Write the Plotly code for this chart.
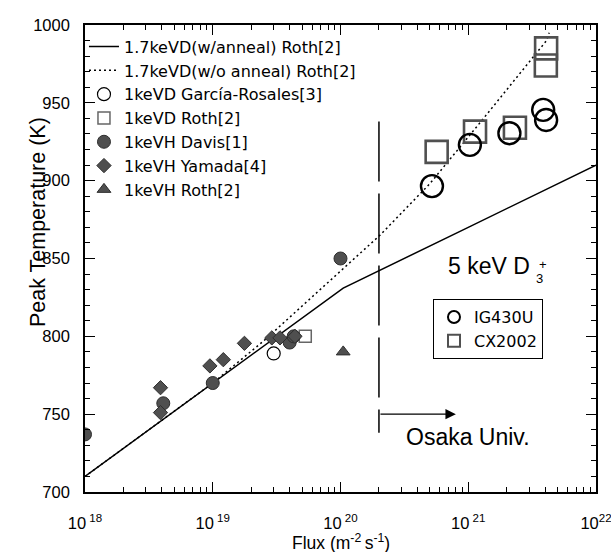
import numpy as np
import plotly.graph_objects as go

# ---------------- data ----------------
# model curves (1.7 keV D, Roth[2])
anneal_flux = [1e18, 1e19, 2.3e19, 1.05e20, 1e21, 1e22]
anneal_T = [710, 770, 792, 831, 870, 910]

noanneal_flux = [1e18, 1e19, 2.5e19, 1e20, 2.04e20, 5.0e20, 1.23e21, 4.1e21, 4.3e21]
noanneal_T = [710, 770, 797, 842, 865, 898, 937, 990, 995]

# literature points
garcia_flux = [3.0e19]
garcia_T = [789]

roth_d_flux = [5.3e19]
roth_d_T = [800]

davis_flux = [1.0e18, 4.1e18, 1.0e19, 4.0e19, 4.3e19, 1.0e20]
davis_T = [737, 757, 770, 796, 800, 850]

yamada_flux = [3.9e18, 3.9e18, 9.5e18, 1.21e19, 1.77e19, 2.9e19, 3.36e19, 4.4e19]
yamada_T = [767, 751, 781, 785, 795.5, 799, 799, 800]

roth_h_flux = [1.05e20]
roth_h_T = [790]

# Osaka Univ. (5 keV D3+)
ig430u_flux = [5.2e20, 1.03e21, 2.1e21, 3.86e21, 4.07e21]
ig430u_T = [896.5, 923, 930.5, 945.5, 939]

cx2002_flux = [5.66e20, 1.13e21, 2.32e21, 4.07e21, 4.05e21]
cx2002_T = [918.5, 931.5, 934, 985, 974]

osaka_boundary_flux = [2.0e20, 2.0e20]
osaka_boundary_T = [938, 738]
arrow_flux = [2.0e20, 8.0e20]
arrow_T = 750

x_tick_vals = [1e18, 1e19, 1e20, 1e21, 1e22]
x_tick_text = ["10<sup> 18</sup>", "10<sup> 19</sup>", "10<sup> 20</sup>",
               "10<sup> 21</sup>", "10<sup>22</sup>"]
x_minor_vals = [k * 10.0 ** n for n in range(18, 22) for k in range(2, 10)]

# ---------------- figure ----------------
FONT = "Liberation Sans, Arial, Helvetica, sans-serif"
LFONT = "DejaVu Sans, Liberation Sans, sans-serif"
FILL = "#4f4f4f"
EDGE = "#2e2e2e"

fig = go.Figure()

fig.add_trace(go.Scatter(
    x=anneal_flux, y=anneal_T, mode="lines",
    line=dict(color="black", width=1.5),
    name="1.7keVD(w/anneal) Roth[2]", legend="legend"))
fig.add_trace(go.Scatter(
    x=noanneal_flux, y=noanneal_T, mode="lines",
    line=dict(color="black", width=1.5, dash="2px,3px"),
    name="1.7keVD(w/o anneal) Roth[2]", legend="legend"))
fig.add_trace(go.Scatter(
    x=garcia_flux, y=garcia_T, mode="markers",
    marker=dict(symbol="circle-open", size=13, color="black", line=dict(width=1.2)),
    name="1keVD García-Rosales[3]", legend="legend"))
fig.add_trace(go.Scatter(
    x=roth_d_flux, y=roth_d_T, mode="markers",
    marker=dict(symbol="square", size=12, color="white",
                line=dict(color="#666666", width=1.5)),
    name="1keVD Roth[2]", legend="legend"))
fig.add_trace(go.Scatter(
    x=davis_flux, y=davis_T, mode="markers",
    marker=dict(symbol="circle", size=13, color=FILL, line=dict(color=EDGE, width=1)),
    name="1keVH Davis[1]", legend="legend"))
fig.add_trace(go.Scatter(
    x=yamada_flux, y=yamada_T, mode="markers",
    marker=dict(symbol="diamond", size=11, color=FILL, line=dict(color=EDGE, width=1)),
    name="1keVH Yamada[4]", legend="legend"))
fig.add_trace(go.Scatter(
    x=roth_h_flux, y=roth_h_T, mode="markers",
    marker=dict(symbol="triangle-up", size=12, color=FILL, line=dict(color=EDGE, width=1)),
    name="1keVH Roth[2]", legend="legend"))

fig.add_trace(go.Scatter(
    x=cx2002_flux, y=cx2002_T, mode="markers",
    marker=dict(symbol="square", size=22, color="rgba(255,255,255,0)",
                line=dict(color="#505050", width=2.6)),
    name="CX2002", legend="legend2", legendrank=2))
fig.add_trace(go.Scatter(
    x=ig430u_flux, y=ig430u_T, mode="markers",
    marker=dict(symbol="circle", size=22, color="rgba(255,255,255,0)",
                line=dict(color="black", width=2.4)),
    name="IG430U", legend="legend2", legendrank=1))

# Osaka boundary (long dashed) and arrow
fig.add_trace(go.Scatter(
    x=osaka_boundary_flux, y=osaka_boundary_T, mode="lines",
    line=dict(color="black", width=1.5, dash="60px,12px"),
    showlegend=False, hoverinfo="skip"))

fig.add_annotation(
    x=np.log10(arrow_flux[1]), y=arrow_T, ax=np.log10(arrow_flux[0]), ay=arrow_T,
    xref="x", yref="y", axref="x", ayref="y", text="",
    showarrow=True, arrowhead=2, arrowsize=1.6, arrowwidth=1.3, arrowcolor="black")

fig.add_annotation(
    x=np.log10(1.0e21), y=735.5, xref="x", yref="y", text="Osaka Univ.",
    xanchor="center", yanchor="middle",
    showarrow=False, font=dict(family=FONT, size=23, color="black"))

fig.add_annotation(
    x=np.log10(1.45e21), y=845.2, xref="x", yref="y", text="5 keV D",
    xanchor="center", yanchor="middle",
    showarrow=False, font=dict(family=FONT, size=23, color="black"))
fig.add_annotation(
    x=np.log10(3.6e21), y=837.4, xref="x", yref="y", text="3",
    xanchor="center", yanchor="middle",
    showarrow=False, font=dict(family=FONT, size=13, color="black"))
fig.add_annotation(
    x=np.log10(3.85e21), y=846.4, xref="x", yref="y", text="+",
    xanchor="center", yanchor="middle",
    showarrow=False, font=dict(family=FONT, size=13, color="black"))

# axis titles
fig.add_annotation(
    x=-0.092, y=0.578, xref="paper", yref="paper", text="Peak Temperature (K)",
    xanchor="center", yanchor="middle",
    textangle=-90, showarrow=False, font=dict(family=FONT, size=21.5, color="black"))
fig.add_annotation(
    x=0.5, y=-0.107, xref="paper", yref="paper", text="Flux (m<sup>-2 </sup>s<sup>-1</sup>)",
    xanchor="center", yanchor="middle",
    showarrow=False, font=dict(family=FONT, size=17.5, color="black"))

fig.update_xaxes(
    type="log", range=[18, 22.0001], automargin=False,
    tickvals=x_tick_vals, ticktext=x_tick_text,
    ticks="inside", ticklen=10, tickwidth=1.2, tickcolor="black",
    ticklabelstandoff=15, ticklabeloverflow="allow",
    minor=dict(tickvals=x_minor_vals, ticks="inside", ticklen=5, tickwidth=1, tickcolor="black"),
    showline=True, linecolor="black", linewidth=1.6, mirror="ticks",
    showgrid=False, zeroline=False,
    tickfont=dict(family=FONT, size=16.5, color="black"))

fig.update_yaxes(
    range=[700, 1000], dtick=50, tick0=700, automargin=False,
    ticks="inside", ticklen=10, tickwidth=1.2, tickcolor="black",
    ticklabelstandoff=10, ticklabeloverflow="allow",
    minor=dict(dtick=10, ticks="inside", ticklen=5, tickwidth=1, tickcolor="black"),
    showline=True, linecolor="black", linewidth=1.6, mirror="ticks",
    showgrid=False, zeroline=False,
    tickfont=dict(family=FONT, size=16.5, color="black"))

fig.update_layout(
    width=611, height=552,
    margin=dict(l=85, r=15, t=25, b=60, autoexpand=False),
    paper_bgcolor="white", plot_bgcolor="white",
    font=dict(family=FONT, color="black"),
    legend=dict(x=-0.002, y=0.99, xanchor="left", yanchor="top",
                bgcolor="rgba(0,0,0,0)", borderwidth=0, tracegroupgap=0,
                itemsizing="trace", font=dict(family=LFONT, size=16)),
    legend2=dict(x=0.681, y=0.413, xanchor="left", yanchor="top",
                 bgcolor="white", bordercolor="black", borderwidth=1,
                 itemsizing="constant", entrywidth=82, entrywidthmode="pixels",
                 font=dict(family=LFONT, size=16)),
)

fig.write_html("out.html", post_script="document.body.style.margin='0px';",
               config={"displayModeBar": False})
